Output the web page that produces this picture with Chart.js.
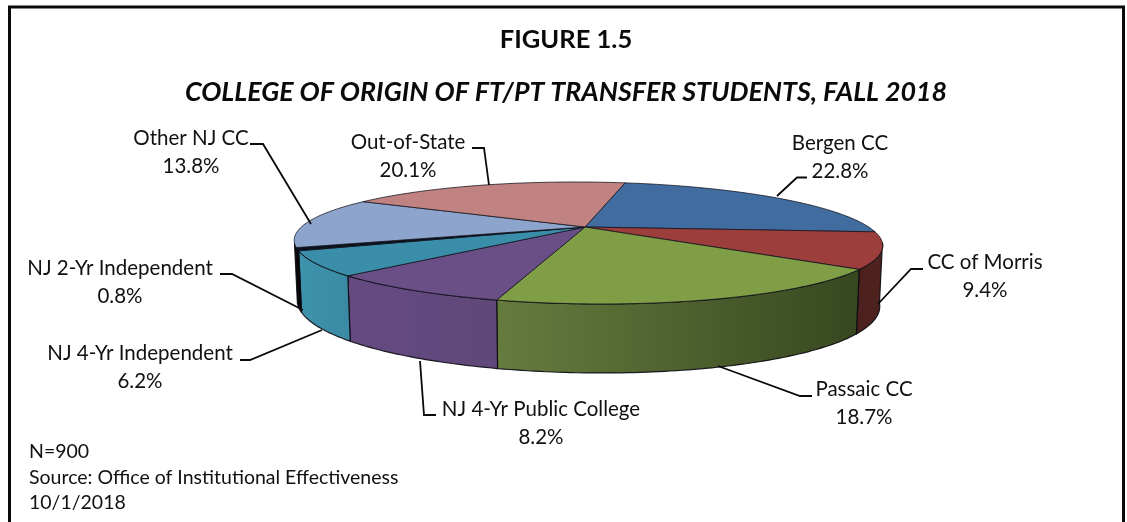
<!DOCTYPE html>
<html><head><meta charset="utf-8">
<style>html,body{margin:0;padding:0;background:#fff}#w{width:1127px;height:522px}canvas{display:block}</style>
<script src="https://cdn.jsdelivr.net/npm/chart.js@4"></script>
</head><body><div id="w"><canvas id="c" width="1127" height="522"></canvas></div>
<script>
const categories = ['Bergen CC','CC of Morris','Passaic CC','NJ 4-Yr Public College','NJ 4-Yr Independent','NJ 2-Yr Independent','Other NJ CC','Out-of-State'];
const shares = [22.8,9.4,18.7,8.2,6.2,0.8,13.8,20.1];
const topColors = ['#416c9f','#9b3e3c','#7f9e46','#6a4f87','#3b8ea9','#0c1420','#8da4cc','#c08381'];
const wallLeft = ['#2b4668','#4c201d','#667c3e','#654a82','#3e93ad','#050505','#050505','#7d5553'];
const wallRight = ['#2b4668','#4f221e','#374720','#5f4879','#3a8aa3','#050505','#050505','#7d5553'];
const titleText = 'FIGURE 1.5';
const subtitleText = 'COLLEGE OF ORIGIN OF FT/PT TRANSFER STUDENTS, FALL 2018';
const notes = ['N=900','Source: Office of Institutional Effectiveness','10/1/2018'];

// layout (label centre x, first-line y, leader polyline)
const labelLayout = [
  {x:840,y:143,line:[[777,196],[797,177.5],[807,177.5]]},
  {x:985,y:262,line:[[878,304],[911,269],[923,269]]},
  {x:864,y:389,line:[[718,366],[800,396],[812,396]]},
  {x:541,y:409,line:[[420,361],[424,415],[436,415]]},
  {x:140,y:353,line:[[322,330],[250,360],[240,360]]},
  {x:120,y:268,line:[[303,310],[232,274],[220,274]]},
  {x:191,y:138,line:[[311,224],[263,144],[250,144]]},
  {x:408,y:142,line:[[489,185],[484,148],[472,148]]}
];
// projection of the pie disc (perspective view)
const P = {ax:585, ay:227, R:283.7, S:56.8, a:0.262, b:47};
function topPoint(phi){
  const u=Math.cos(phi), v=Math.sin(phi), w=1-P.a*v;
  return [P.ax+P.R*u/w+P.b*(1/w-1), P.ay+P.S*v/w];
}
function botPoint(phi){
  const t=topPoint(phi), v=Math.sin(phi);
  return [t[0]+(P.ax-t[0])*0.01, t[1]+57+12*Math.max(v,0)];
}
const LO=Math.asin(P.a), HI=Math.PI-Math.asin(P.a);
function norm(p){const T=Math.PI*2;return ((p%T)+T)%T;}

const pie3d = {
  id:'pie3d',
  beforeDatasetDraw(chart,args){
    const ctx=chart.ctx, arcs=chart.getDatasetMeta(args.index).data;
    const segs=arcs.map((a,i)=>({i,s:a.startAngle,e:a.endAngle}));
    ctx.save();
    ctx.lineJoin='round';
    // walls: only the part of each slice on the near side of the silhouette
    segs.forEach(g=>{
      let s=norm(g.s), e=s+(g.e-g.s);
      let from=Math.max(s,LO), to=Math.min(e,HI);
      if(to<=from) return;
      const n=Math.max(6,Math.ceil((to-from)*60));
      ctx.beginPath();
      for(let k=0;k<=n;k++){const p=topPoint(from+(to-from)*k/n);k?ctx.lineTo(p[0],p[1]):ctx.moveTo(p[0],p[1]);}
      for(let k=n;k>=0;k--){const p=botPoint(from+(to-from)*k/n);ctx.lineTo(p[0],p[1]);}
      ctx.closePath();
      const l=topPoint(to)[0], r=topPoint(from)[0];
      const gr=ctx.createLinearGradient(l,0,r,0);
      gr.addColorStop(0,wallLeft[g.i]);gr.addColorStop(1,wallRight[g.i]);
      ctx.fillStyle=gr;ctx.fill();
      ctx.strokeStyle='rgba(10,10,15,.9)';ctx.lineWidth=1.2;ctx.stroke();
    });
    // top faces
    segs.forEach(g=>{
      const n=Math.max(6,Math.ceil((g.e-g.s)*60));
      ctx.beginPath();ctx.moveTo(P.ax,P.ay);
      for(let k=0;k<=n;k++){const p=topPoint(g.s+(g.e-g.s)*k/n);ctx.lineTo(p[0],p[1]);}
      ctx.closePath();
      ctx.fillStyle=topColors[g.i];ctx.fill();
      ctx.strokeStyle='rgba(15,15,25,.75)';ctx.lineWidth=1;ctx.stroke();
    });
    ctx.restore();
    return false;
  },
  afterDraw(chart){
    const ctx=chart.ctx;
    ctx.save();
    // frame (open at the bottom)
    ctx.strokeStyle='#0a0a0a';ctx.lineWidth=3;
    ctx.beginPath();ctx.moveTo(9.5,522);ctx.lineTo(9.5,7);ctx.lineTo(1123.5,7);ctx.lineTo(1123.5,522);ctx.stroke();
    // leaders and data labels
    ctx.fillStyle='#111';ctx.strokeStyle='#0a0a0a';ctx.lineWidth=1.8;
    ctx.font='20.5px Lato';ctx.textAlign='center';ctx.textBaseline='middle';
    categories.forEach((c,i)=>{
      const L=labelLayout[i];
      ctx.beginPath();L.line.forEach((p,k)=>k?ctx.lineTo(p[0],p[1]):ctx.moveTo(p[0],p[1]));ctx.stroke();
      ctx.fillText(c,L.x,L.y);
      ctx.fillText(shares[i].toFixed(1)+'%',L.x,L.y+28);
    });
    ctx.textAlign='left';ctx.font='19.5px Lato';
    notes.forEach((t,i)=>ctx.fillText(t,29,452+i*25.5));
    ctx.restore();
  }
};

new Chart(document.getElementById('c'),{
  type:'pie',
  data:{labels:categories,datasets:[{data:shares,backgroundColor:topColors,borderWidth:0}]},
  plugins:[pie3d],
  options:{
    responsive:false,animation:false,rotation:12.7,
    layout:{padding:{top:24.7,left:5}},
    plugins:{
      legend:{display:false},tooltip:{enabled:false},
      title:{display:true,text:titleText,color:'#0a0a0a',font:{family:'Lato',size:25.5,weight:'bold'},padding:{top:0,bottom:20.7}},
      subtitle:{display:true,text:subtitleText,color:'#0a0a0a',font:{family:'Lato',size:26.8,weight:'bold',style:'italic'},padding:{top:0,bottom:0}}
    }
  }
});
</script></body></html>
